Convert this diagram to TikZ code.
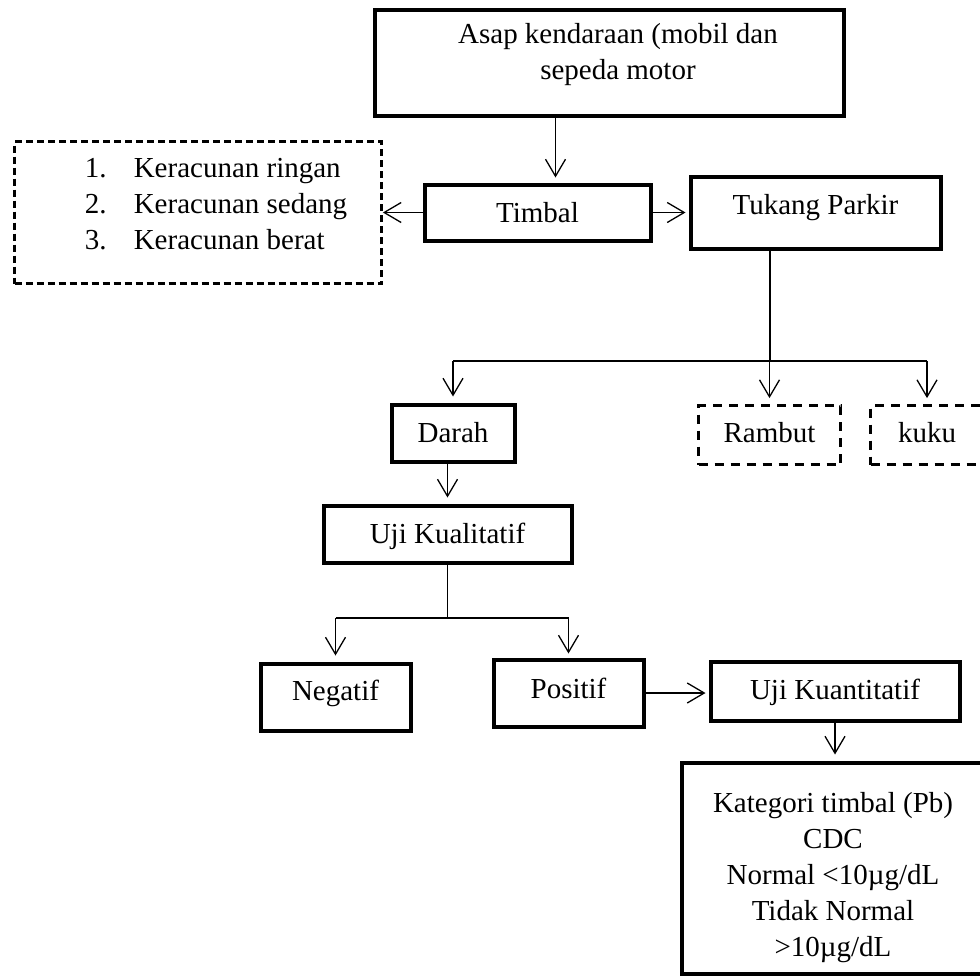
\documentclass[tikz,border=0pt]{standalone}
\usepackage{fontspec}
\setmainfont{Liberation Serif}
\usepackage{tikz}
\usetikzlibrary{arrows.meta,positioning}

\begin{document}
\begin{tikzpicture}[x=1pt, y=-1pt,
  font=\fontsize{29pt}{36pt}\selectfont,
  box/.style={draw, line width=4pt, inner sep=0pt, align=center, text height=20pt, text depth=4pt},
  dbox/.style={draw, line width=2.8pt, dash pattern=on 9pt off 7pt, inner sep=0pt, text height=20pt, text depth=4pt},
  link/.style={-{Straight Barb[length=17pt, width=20pt]}, line width=1.3pt, shorten >=6pt},
  line/.style={line width=1.3pt}
]
\useasboundingbox (0,0) rectangle (980,975);
\clip (0,0) rectangle (980,975);
\node[box, minimum width=469pt, minimum height=106pt, text depth=59pt] (asap) at (609,62.5)
  {\begin{tabular}[t]{@{\hspace{18pt}}c@{}}\fontsize{29pt}{40pt}\selectfont Asap kendaraan (mobil dan\\ \fontsize{29pt}{40pt}\selectfont sepeda motor\end{tabular}};
\node[box, minimum width=226pt, minimum height=56pt, text depth=1pt] (timbal) at (537.5,212.5) {Timbal};
\node[box, minimum width=250pt, minimum height=72pt, text depth=17pt] (tukang) at (815.5,212.5) {Tukang Parkir};
\node[dbox, dash pattern=on 7pt off 4pt, minimum width=367pt, minimum height=142pt, text depth=91pt] (racun) at (198,212.5)
  {\begin{tabular}[t]{@{\hspace{36pt}}l@{}}
   \makebox[49pt][l]{1.}Keracunan ringan\\
   \makebox[49pt][l]{2.}Keracunan sedang\\
   \makebox[49pt][l]{3.}Keracunan berat
   \end{tabular}};
\node[box, minimum width=123pt, minimum height=57pt, text depth=2pt] (darah) at (453,433) {Darah};
\node[dbox, minimum width=142pt, minimum height=59pt, text depth=6pt] (rambut) at (769.5,435) {Rambut};
\node[dbox, minimum width=113pt, minimum height=59pt, text depth=6pt] (kuku) at (927,435) {kuku};
\node[box, minimum width=248pt, minimum height=57pt, text depth=2pt] (ujikual) at (447.5,534) {Uji Kualitatif};
\node[box, minimum width=150pt, minimum height=67pt, text depth=14pt] (negatif) at (335.5,697) {Negatif};
\node[box, minimum width=150pt, minimum height=67pt, text depth=10pt] (positif) at (568.5,693) {Positif};
\node[box, minimum width=249pt, minimum height=59pt, text depth=4pt] (ujikuant) at (835,691) {Uji Kuantitatif};
\node[box, minimum width=303pt, minimum height=211pt, text depth=132pt] (kategori) at (833,868)
  {\begin{tabular}[t]{@{}c@{}}
   \fontsize{29pt}{33.4pt}\selectfont Kategori timbal (Pb)\\
   \fontsize{29pt}{33.4pt}\selectfont CDC\\
   \fontsize{29pt}{33.4pt}\selectfont Normal <10µg/dL\\
   \fontsize{29pt}{33.4pt}\selectfont Tidak Normal\\
   \fontsize{29pt}{33.4pt}\selectfont >10µg/dL
   \end{tabular}};
\coordinate (bag) at (770,361);
\coordinate (cabang) at (447.5,618);
\draw[link, shorten >=5pt] ([xshift=18pt]timbal.north |- asap.south) -- ([xshift=18pt]timbal.north);
\draw[link, shorten >=0pt] (timbal.west) -- (racun.east);
\draw[link, shorten >=3pt] (timbal.east) -- (tukang.west);
% sampel dari tukang parkir
\draw[line] (tukang.south -| bag) -- (bag);
\draw[line] (darah.north |- bag) -- (kuku.north |- bag);
\draw[link] (darah.north |- bag) -- (darah.north);
\draw[link] (rambut.north |- bag) -- (rambut.north);
\draw[link] (kuku.north |- bag) -- (kuku.north);
\draw[link] (darah.south -| ujikual.north) -- (ujikual.north);
% hasil uji kualitatif
\draw[line] (ujikual.south) -- (cabang);
\draw[line] (negatif.north |- cabang) -- (positif.north |- cabang);
\draw[link] (negatif.north |- cabang) -- (negatif.north);
\draw[link, shorten >=4pt] (positif.north |- cabang) -- (positif.north);
\draw[link, shorten >=3pt] (positif.east) -- (positif.east -| ujikuant.west);
\draw[link] (ujikuant.south) -- (ujikuant.south |- kategori.north);
\end{tikzpicture}
\end{document}
